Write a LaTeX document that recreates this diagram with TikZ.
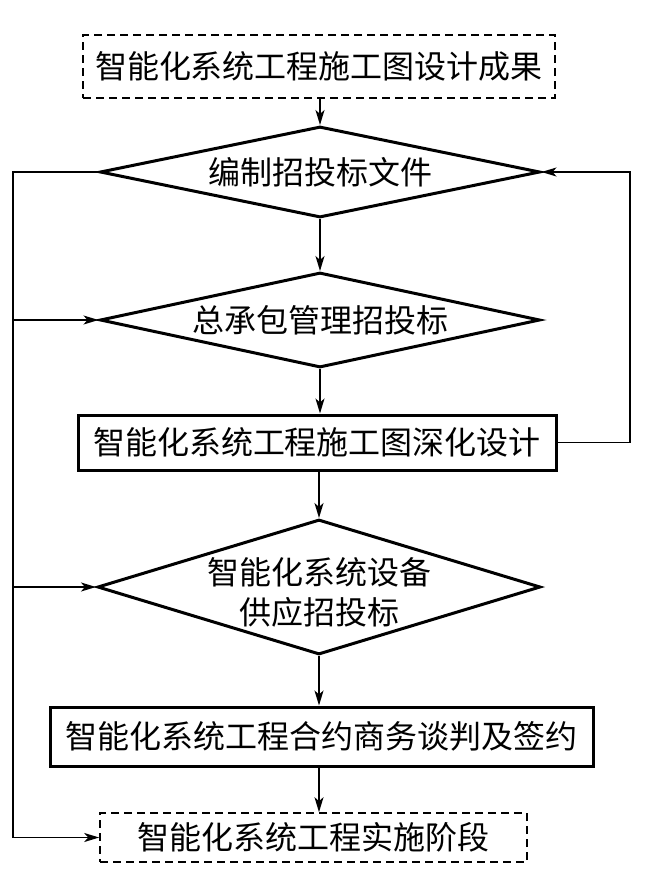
\documentclass[tikz,border=0pt]{standalone}
\usepackage{fontspec}
\setmainfont{Noto Sans CJK SC}
\usetikzlibrary{shapes.geometric,arrows.meta}
\begin{document}
\begin{tikzpicture}[x=1pt,y=-1pt,
  txt/.style={font=\fontsize{32}{38}\selectfont, inner sep=0pt, align=center},
  dbox/.style={draw, dash pattern=on 8pt off 5pt, line width=1.6pt, inner sep=0pt, font=\fontsize{32}{37}\selectfont},
  tbox/.style={draw, line width=3pt, inner sep=0pt, font=\fontsize{32}{37}\selectfont},
  dia/.style={draw, diamond, line width=3pt, inner sep=0pt},
  conn/.style={line width=1.7pt, -{Stealth[length=15pt,width=9pt,inset=4pt]}}]
\useasboundingbox (0,0) rectangle (650,879);

\node[dbox, minimum width=472pt, minimum height=63pt] (top) at (319,66.5) {智能化系统工程施工图设计成果};

\node[dia, minimum width=440pt, minimum height=91pt] (d1) at (320,172) {};
\node[txt] (t1) at (d1.center) {编制招投标文件};

\node[dia, minimum width=440pt, minimum height=95pt] (d2) at (320,320) {};
\node[txt] (t2) at (d2.center) {总承包管理招投标};

\node[tbox, minimum width=478pt, minimum height=55pt] (b3) at (317,442.5) {智能化系统工程施工图深化设计};

\node[dia, minimum width=443pt, minimum height=135pt] (d3) at (319,587) {};
\node[txt] (t3) at ([yshift=-5pt]d3.center) {智能化系统设备\\[2pt]供应招投标};

\node[tbox, minimum width=543pt, minimum height=59pt] (b5) at (321.5,736.5) {智能化系统工程合约商务谈判及签约};

\node[dbox, minimum width=427pt, minimum height=49pt] (b6) at (313.5,837.5) {智能化系统工程实施阶段};

\coordinate (L) at (13,0);
\coordinate (R) at (630,0);

\draw[conn] (top.south -| d1.north) -- (d1.north);
\draw[conn] (d1.south) -- (d2.north);
\draw[conn] (d2.south) -- (b3.north -| d2.south);
\draw[conn] (b3.south -| d3.north) -- (d3.north);
\draw[conn] (d3.south) -- (b5.north -| d3.south);
\draw[conn] (b5.south -| d3.south) -- (b6.north -| d3.south);

\draw[conn] (b3.east) -- (b3.east -| R) |- (d1.east);
\draw[conn] (d1.west) -- (d1.west -| L) |- (b6.west);
\draw[conn] (d2.west -| L) -- (d2.west);
\draw[conn] (d3.west -| L) -- (d3.west);
\end{tikzpicture}
\end{document}
